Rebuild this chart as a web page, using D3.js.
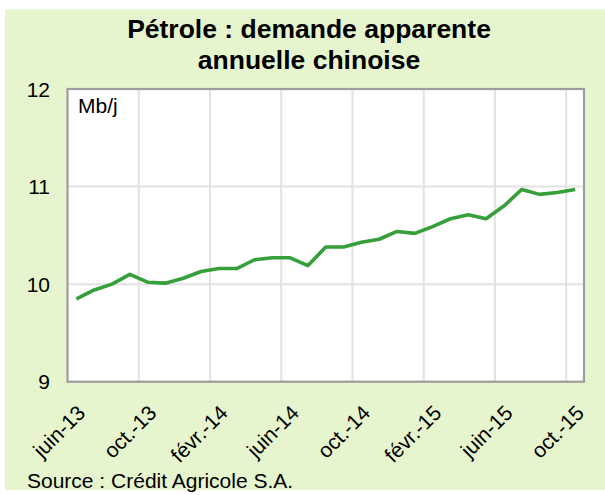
<!DOCTYPE html>
<html>
<head>
<meta charset="utf-8">
<script src="https://cdn.jsdelivr.net/npm/d3@7"></script>
<style>
  html, body { margin: 0; padding: 0; background: #ffffff; }
  svg { display: block; font-family: "Liberation Sans", Arial, sans-serif; }
</style>
</head>
<body>
<div id="chart"></div>
<script>
const months = [
  "juin-13", "juil.-13", "août-13", "sept.-13", "oct.-13", "nov.-13", "déc.-13",
  "janv.-14", "févr.-14", "mars-14", "avr.-14", "mai-14", "juin-14", "juil.-14",
  "août-14", "sept.-14", "oct.-14", "nov.-14", "déc.-14", "janv.-15", "févr.-15",
  "mars-15", "avr.-15", "mai-15", "juin-15", "juil.-15", "août-15", "sept.-15", "oct.-15"
];
const demand = [
  9.85, 9.94, 10.00, 10.10, 10.02, 10.01, 10.06, 10.13, 10.16, 10.16,
  10.25, 10.27, 10.27, 10.19, 10.38, 10.38, 10.43, 10.46, 10.54, 10.52,
  10.59, 10.67, 10.71, 10.67, 10.80, 10.97, 10.92, 10.94, 10.97
];
const yTicks = [9, 10, 11, 12];
const titleLines = ["Pétrole : demande apparente", "annuelle chinoise"];
const unitLabel = "Mb/j";
const sourceText = "Source : Crédit Agricole S.A.";

const width = 605, height = 495;
const margin = { top: 89, right: 21, bottom: 113.3, left: 67.5 };
const plotRight = width - margin.right;
const plotBottom = height - margin.bottom;

const svg = d3.select("#chart").append("svg")
  .attr("width", width)
  .attr("height", height);

// chart area background
svg.append("rect")
  .attr("x", 5).attr("y", 9.5)
  .attr("width", width - 5).attr("height", 480.5)
  .attr("fill", "#e6f5cd");

const x = d3.scaleBand()
  .domain(months)
  .range([margin.left, plotRight])
  .paddingInner(0).paddingOuter(0);

const y = d3.scaleLinear()
  .domain([9, 12])
  .range([plotBottom, margin.top]);

svg.append("rect")
  .attr("x", margin.left).attr("y", margin.top)
  .attr("width", plotRight - margin.left).attr("height", plotBottom - margin.top)
  .attr("fill", "#ffffff");

// gridlines
const grid = svg.append("g").attr("stroke", "#e2e2e2").attr("stroke-width", 2);
grid.selectAll(".hgrid")
  .data(yTicks.slice(1, -1))
  .join("line")
  .attr("x1", margin.left).attr("x2", plotRight)
  .attr("y1", d => y(d)).attr("y2", d => y(d));

const tickMonths = months.filter((m, i) => i % 4 === 0);
grid.selectAll(".vgrid")
  .data(tickMonths.slice(1))
  .join("line")
  .attr("x1", d => x(d)).attr("x2", d => x(d))
  .attr("y1", margin.top).attr("y2", plotBottom);

// border
svg.append("rect")
  .attr("x", margin.left).attr("y", margin.top)
  .attr("width", plotRight - margin.left).attr("height", plotBottom - margin.top)
  .attr("fill", "none")
  .attr("stroke", "#9d9d9d")
  .attr("stroke-width", 2.2);

// y axis labels
svg.append("g")
  .selectAll("text")
  .data(yTicks)
  .join("text")
  .attr("x", 50)
  .attr("y", d => y(d))
  .attr("dy", "0.36em")
  .attr("text-anchor", "end")
  .attr("font-size", 21)
  .attr("fill", "#000")
  .text(d => d);

// x axis labels
svg.append("g")
  .selectAll("text")
  .data(tickMonths)
  .join("text")
  .attr("transform", d => `translate(${x(d) + x.bandwidth() / 2 + 5},409) rotate(-45)`)
  .attr("dy", "0.35em")
  .attr("text-anchor", "end")
  .attr("font-size", 21)
  .attr("fill", "#000")
  .text(d => d);

// line
const line = d3.line()
  .x((d, i) => x(months[i]) + x.bandwidth() / 2)
  .y(d => y(d));

svg.append("path")
  .datum(demand)
  .attr("d", line)
  .attr("fill", "none")
  .attr("stroke", "#35a03a")
  .attr("stroke-width", 3.6)
  .attr("stroke-linejoin", "round");

// unit
svg.append("text")
  .attr("x", 78).attr("y", 113)
  .attr("font-size", 21)
  .attr("fill", "#000")
  .text(unitLabel);

// title
svg.append("g")
  .selectAll("text")
  .data(titleLines)
  .join("text")
  .attr("x", 309)
  .attr("y", (d, i) => 38 + i * 31)
  .attr("text-anchor", "middle")
  .attr("font-size", 26.5)
  .attr("font-weight", "bold")
  .attr("fill", "#000")
  .text(d => d);

// source
svg.append("text")
  .attr("x", 27).attr("y", 488)
  .attr("font-size", 21)
  .attr("fill", "#000")
  .text(sourceText);
</script>
</body>
</html>
